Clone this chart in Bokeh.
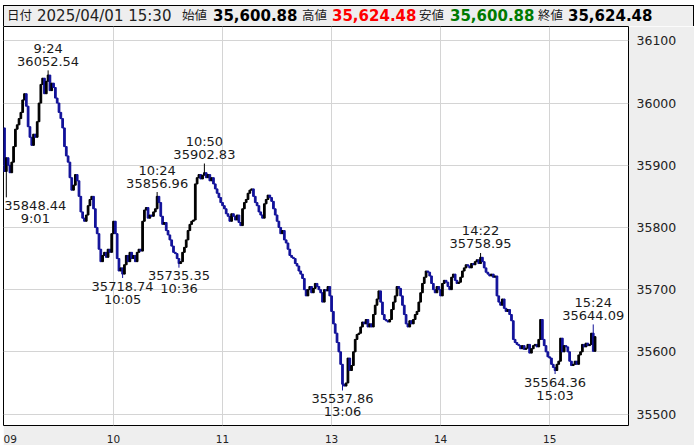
from bokeh.plotting import figure
from bokeh.models import ColumnDataSource, FixedTicker, Div, Range1d
from bokeh.layouts import column
from bokeh.embed import file_html
from bokeh.resources import INLINE
from bokeh.core.properties import value

# ---------------- data (1-minute bars, 2025/04/01) ----------------
first_open = 35960.0
closes = [
    35890, 35912, 35900, 35888, 35905, 35930, 35958, 35965, 35975, 35985,
    36005, 36015, 35995, 35962, 35945, 35932, 35950, 35945, 35970, 36000,
    36030, 36040, 36015, 36035, 36045, 36020, 36032, 36025, 36008, 36000,
    35985, 35975, 35960, 35930, 35915, 35905, 35880, 35860, 35868, 35885,
    35875, 35850, 35825, 35815, 35810, 35820, 35835, 35845, 35850, 35830,
    35800, 35790, 35765, 35745, 35755, 35760, 35752, 35765, 35760, 35790,
    35810, 35790, 35750, 35730, 35735, 35725, 35740, 35755, 35745, 35760,
    35750, 35755, 35745, 35760, 35765, 35762, 35810, 35828, 35832, 35815,
    35820, 35818, 35825, 35830, 35850, 35840, 35818, 35805, 35808, 35795,
    35788, 35780, 35770, 35760, 35758, 35750, 35742, 35745, 35760, 35768,
    35780, 35795, 35805, 35810, 35812, 35870, 35880, 35885, 35878, 35884,
    35888, 35880, 35885, 35875, 35880, 35870, 35862, 35855, 35848, 35840,
    35835, 35830, 35822, 35818, 35810, 35822, 35818, 35812, 35820, 35808,
    35803, 35830, 35840, 35845, 35855, 35860, 35862, 35850, 35840, 35835,
    35825, 35820, 35815, 35838, 35845, 35852, 35848, 35842, 35830, 35820,
    35810, 35800, 35790, 35795, 35780, 35775, 35765, 35755, 35752, 35750,
    35742, 35738, 35730, 35725, 35718, 35700, 35690, 35700, 35705, 35695,
    35702, 35710, 35705, 35700, 35695, 35680, 35700, 35698, 35705, 35690,
    35665, 35645, 35630, 35615, 35600, 35580, 35548, 35545, 35550, 35590,
    35570, 35578, 35600, 35620, 35628, 35630, 35640, 35648, 35645, 35652,
    35640, 35645, 35640, 35660, 35675, 35685, 35698, 35680, 35660, 35652,
    35650, 35648, 35652, 35668, 35680, 35690, 35705, 35702, 35690, 35675,
    35660, 35645, 35640, 35650, 35645, 35652, 35660, 35665, 35680, 35695,
    35710, 35720, 35730, 35728, 35722, 35710, 35700, 35695, 35705, 35700,
    35690, 35710, 35715, 35712, 35705, 35700, 35720, 35725, 35715, 35710,
    35712, 35720, 35730, 35735, 35740, 35738, 35735, 35742, 35740, 35745,
    35748, 35742, 35752, 35745, 35735, 35728, 35725, 35722, 35725, 35720,
    35722, 35690, 35680, 35675, 35685, 35670, 35665, 35668, 35660, 35650,
    35620, 35615, 35612, 35610, 35605, 35610, 35604, 35606, 35612, 35598,
    35605, 35610, 35612, 35608, 35620, 35652, 35620, 35610, 35600, 35592,
    35590, 35580, 35575, 35570, 35580, 35585, 35622, 35600, 35610, 35608,
    35600, 35585, 35578, 35580, 35585, 35580, 35595, 35600, 35612, 35608,
    35614, 35610, 35612, 35630, 35600.88, 35624.48,
]

label_times = ["9:01", "9:24", "10:05", "10:24", "10:36", "10:50", "13:06", "14:22", "15:03", "15:24"]
label_values = [35848.44, 36052.54, 35718.74, 35856.96, 35735.35, 35902.83, 35537.86, 35758.95, 35564.36, 35644.09]
label_kinds = ["low", "high", "low", "high", "low", "high", "low", "high", "low", "high"]

hour_times = ["9:00", "10:00", "11:00", "13:00", "14:00", "15:00"]
hour_labels = ["09", "10", "11", "13", "14", "15"]
price_ticks = [35500, 35600, 35700, 35800, 35900, 36000, 36100]

header_date = "2025/04/01 15:30"
ohlc_names = ["始値", "高値", "安値", "終値"]
ohlc_texts = ["35,600.88", "35,624.48", "35,600.88", "35,624.48"]
ohlc_colors = ["#000000", "#ff0000", "#007a00", "#000000"]


def bar_index(t):
    h, m = t.split(":")
    mins = int(h) * 60 + int(m)
    if mins >= 12 * 60 + 30:
        return 150 + (mins - (12 * 60 + 30))
    return mins - 9 * 60


# ---------------- candles ----------------
n = len(closes)
opens = [first_open] + closes[:-1]
highs = [max(o, c) for o, c in zip(opens, closes)]
lows = [min(o, c) for o, c in zip(opens, closes)]
for t, v, k in zip(label_times, label_values, label_kinds):
    i = bar_index(t)
    if k == "high":
        highs[i] = max(highs[i], v)
    else:
        lows[i] = min(lows[i], v)

UP = "#000000"
DOWN = "#12129a"
colors = [UP if c >= o else DOWN for o, c in zip(opens, closes)]
src = ColumnDataSource(dict(
    x=list(range(n)),
    top=[max(o, c) for o, c in zip(opens, closes)],
    bottom=[min(o, c) for o, c in zip(opens, closes)],
    high=highs, low=lows, color=colors,
))

p = figure(width=691, height=419,
           x_range=Range1d(-0.55, 343.4), y_range=Range1d(35481.6, 36123.1),
           y_axis_location="right", output_backend="svg", toolbar_location=None,
           min_border_left=0, min_border_top=0, min_border_right=66, min_border_bottom=17,
           border_fill_color="#eeeeee", background_fill_color="white",
           outline_line_color="black", outline_line_width=1,
           margin=(0, 0, 0, 3))

p.segment(x0="x", y0="low", x1="x", y1="high", color="color", line_width=1, source=src)
p.vbar(x="x", width=0.95, top="top", bottom="bottom", fill_color="color",
       line_color="color", line_width=1, source=src)

# ---------------- labels ----------------
lx, ly, ltxt, loff, lxoff = [], [], [], [], []
for t, v, k in zip(label_times, label_values, label_kinds):
    i = bar_index(t)
    xo = 29 if i < 5 else 0
    lx += [i, i]
    ly += [v, v]
    ltxt += [f"{v:.2f}", t]
    loff += ([-9, -22] if k == "high" else [8, 21])
    lxoff += [xo, xo]
lsrc = ColumnDataSource(dict(x=lx, y=ly, text=ltxt, yo=loff, xo=lxoff))
p.text(x="x", y="y", text="text", y_offset="yo", x_offset="xo", source=lsrc,
       text_align="center", text_baseline="middle",
       text_font=value("DejaVu Sans"), text_font_size="13px", text_color="#1a1a1a")

# ---------------- axes & grid ----------------
hour_idx = [bar_index(t) for t in hour_times]
p.xaxis.ticker = FixedTicker(ticks=hour_idx)
p.xaxis.major_label_overrides = {i: s for i, s in zip(hour_idx, hour_labels)}
p.xaxis.major_label_text_align = "left"
p.xaxis.major_label_standoff = 3
p.xaxis.major_label_text_font = "DejaVu Sans"
p.xaxis.major_label_text_font_size = "10.5px"
p.xaxis.major_label_text_color = "#222222"
p.xaxis.major_tick_line_color = None
p.xaxis.minor_tick_line_color = None
p.xaxis.axis_line_color = None

p.yaxis.ticker = FixedTicker(ticks=price_ticks)
p.yaxis.major_label_standoff = 2
p.yaxis.major_label_text_font = "DejaVu Sans"
p.yaxis.major_label_text_font_size = "12.5px"
p.yaxis.major_label_text_color = "#222222"
p.yaxis.major_tick_line_color = None
p.yaxis.minor_tick_line_color = None
p.yaxis.axis_line_color = None

p.xgrid.ticker = FixedTicker(ticks=hour_idx[1:])
p.ygrid.ticker = FixedTicker(ticks=price_ticks)
p.xgrid.grid_line_color = "#d4d4d4"
p.ygrid.grid_line_color = "#d4d4d4"

# ---------------- header ----------------
name_x = [178, 298, 415, 534]
val_x = [209, 328, 446, 564]
spans = ['<span style="position:absolute;left:3px;top:0;font-size:12.5px;color:#1a1a1a">日付</span>',
         f'<span style="position:absolute;left:33px;top:0;font-size:15px;color:#222">{header_date}</span>']
for nm, tx, col, nx, vx in zip(ohlc_names, ohlc_texts, ohlc_colors, name_x, val_x):
    spans.append(f'<span style="position:absolute;left:{nx}px;top:0;font-size:12.5px;color:#222">{nm}</span>')
    spans.append(f'<span style="position:absolute;left:{vx}px;top:0;font-size:15px;font-weight:bold;color:{col}">{tx}</span>')
html = ('<div style="position:relative;box-sizing:border-box;width:691px;height:21px;'
        'background:#eeeeee;border:1px solid #000;border-bottom:none;line-height:20px;'
        'font-family:\'DejaVu Sans\',\'Noto Sans CJK JP\';white-space:nowrap;overflow:hidden">'
        + "".join(spans) + '</div>')
header = Div(text=html, width=691, height=21, margin=(5, 0, 0, 3))

layout = column(header, p, spacing=0)
open("out.html", "w").write(file_html(layout, INLINE))
